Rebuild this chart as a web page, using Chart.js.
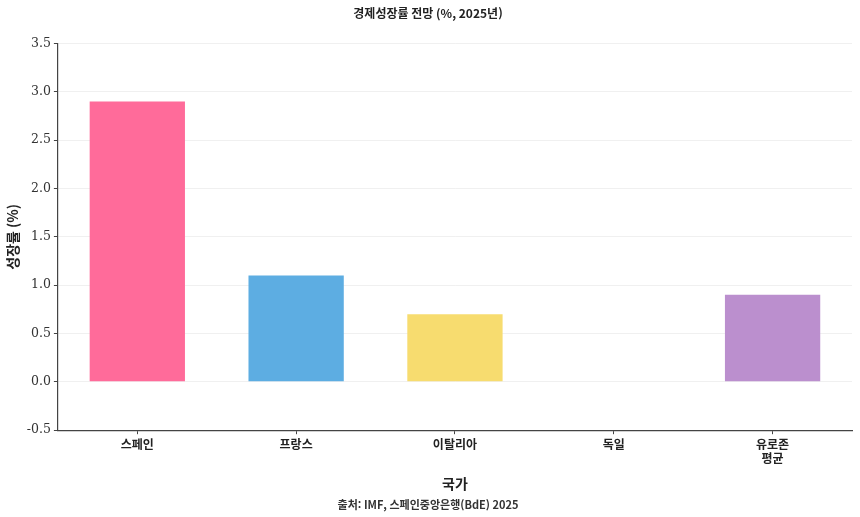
<!DOCTYPE html>
<html lang="ko">
<head>
<meta charset="utf-8">
<script src="https://cdn.jsdelivr.net/npm/chart.js@4"></script>
<style>
  html, body { margin: 0; padding: 0; background: #fff; }
  #wrap { width: 860px; height: 517px; }
</style>
</head>
<body>
<div id="wrap"><canvas id="growthChart" width="860" height="517"></canvas></div>
<script>
const countries = ['스페인', '프랑스', '이탈리아', '독일', ['유로존', '평균']];
const growth = [2.9, 1.1, 0.7, 0.0, 0.9];
const barColors = ['#FF6B9A', '#5DADE2', '#F7DC6F', '#5DADE2', '#BB8FCE'];
const yTicks = [-0.5, 0.0, 0.5, 1.0, 1.5, 2.0, 2.5, 3.0, 3.5];

const FONT = '"DejaVu Serif", "Noto Sans CJK KR", serif';
const KFONT = '"Noto Sans CJK KR", "DejaVu Serif", sans-serif';

const ctx = document.getElementById('growthChart').getContext('2d');
new Chart(ctx, {
  type: 'bar',
  data: {
    labels: countries,
    datasets: [{
      label: '성장률',
      data: growth,
      backgroundColor: barColors,
      borderWidth: 0,
      barPercentage: 0.6,
      categoryPercentage: 1.0
    }]
  },
  options: {
    responsive: false,
    animation: false,
    layout: { padding: { top: 0, right: 8, bottom: 2, left: 4 } },
    plugins: {
      legend: { display: false },
      tooltip: { enabled: false },
      title: {
        display: true,
        text: '경제성장률 전망 (%, 2025년)',
        color: '#222',
        font: { family: KFONT, size: 12, weight: 'bold' },
        padding: { top: 6, bottom: 23 }
      },
      subtitle: {
        display: true,
        position: 'bottom',
        text: '출처: IMF, 스페인중앙은행(BdE) 2025',
        color: '#333',
        font: { family: KFONT, size: 11, weight: 'bold' },
        padding: { top: 4, bottom: 4 }
      }
    },
    scales: {
      x: {
        border: { display: true, color: '#444', width: 1.2 },
        grid: { display: true, offset: false, drawOnChartArea: false, tickColor: '#444', tickLength: 4 },
        ticks: {
          color: '#222',
          font: { family: KFONT, size: 12, weight: 'bold' },
          padding: 3
        },
        title: {
          display: true,
          text: '국가',
          color: '#222',
          font: { family: KFONT, size: 14, weight: 'bold' },
          padding: { top: 6, bottom: 2 }
        }
      },
      y: {
        min: -0.5,
        max: 3.5,
        afterBuildTicks: (scale) => { scale.ticks = yTicks.map(v => ({ value: v })); },
        border: { display: true, color: '#444', width: 1.2 },
        grid: { color: 'rgba(0,0,0,0.06)', tickColor: '#444', tickLength: 4 },
        ticks: {
          color: '#333',
          font: { family: FONT, size: 12.5 },
          padding: 3,
          callback: (v) => Number(v).toFixed(1)
        },
        title: {
          display: true,
          text: '성장률 (%)',
          color: '#222',
          font: { family: KFONT, size: 14, weight: 'bold' },
          padding: { top: 0, bottom: 3 }
        }
      }
    }
  }
});
</script>
</body>
</html>
